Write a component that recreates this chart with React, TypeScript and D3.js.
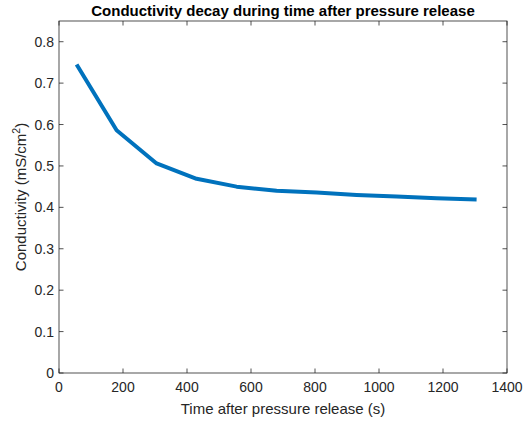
import React from "react";
import * as d3 from "d3";

const times = [55, 180, 305, 430, 555, 680, 805, 930, 1055, 1180, 1305];
const conductivity = [0.745, 0.586, 0.506, 0.469, 0.45, 0.44, 0.436, 0.43, 0.426, 0.422, 0.419];
const xTicks = [0, 200, 400, 600, 800, 1000, 1200, 1400];
const yTicks = [0, 0.1, 0.2, 0.3, 0.4, 0.5, 0.6, 0.7, 0.8];

const W = 526, H = 421;
const L = 59, R = 507, T = 21, B = 373;
const axisColor = "#262626";
const font = "'Liberation Sans', Arial, sans-serif";

export default function App() {
  const x = d3.scaleLinear().domain([0, 1400]).range([L, R]);
  const y = d3.scaleLinear().domain([0, 0.85]).range([B, T]);
  const line = d3.line<number>().x((_, i) => x(times[i])).y((d) => y(d));
  const tl = 4.5;
  return (
    <svg width={W} height={H} style={{ position: "absolute", left: 0, top: 0 }} fontFamily={font}>
      <rect x={0} y={0} width={W} height={H} fill="#fff" />
      <text x={(L + R) / 2} y={16} textAnchor="middle" fontSize={15} fontWeight="bold" fill="#000">
        Conductivity decay during time after pressure release
      </text>
      {xTicks.map((t) => (
        <g key={"x" + t}>
          <line x1={x(t)} x2={x(t)} y1={B} y2={B - tl} stroke={axisColor} strokeWidth={0.8} />
          <line x1={x(t)} x2={x(t)} y1={T} y2={T + tl} stroke={axisColor} strokeWidth={0.8} />
          <text x={x(t)} y={B + 19} textAnchor="middle" fontSize={14} fill={axisColor}>{t}</text>
        </g>
      ))}
      {yTicks.map((t) => (
        <g key={"y" + t}>
          <line x1={L} x2={L + tl} y1={y(t)} y2={y(t)} stroke={axisColor} strokeWidth={0.8} />
          <line x1={R} x2={R - tl} y1={y(t)} y2={y(t)} stroke={axisColor} strokeWidth={0.8} />
          <text x={L - 5} y={y(t) + 5} textAnchor="end" fontSize={14} fill={axisColor}>{t}</text>
        </g>
      ))}
      <rect x={L} y={T} width={R - L} height={B - T} fill="none" stroke={axisColor} strokeWidth={0.8} />
      <path d={line(conductivity) || ""} fill="none" stroke="#0072BD" strokeWidth={4} strokeLinejoin="round" />
      <text x={(L + R) / 2} y={414} textAnchor="middle" fontSize={15} fill={axisColor}>
        Time after pressure release (s)
      </text>
      <text transform={`translate(26,${(T + B) / 2}) rotate(-90)`} textAnchor="middle" fontSize={15} fill={axisColor}>
        Conductivity (mS/cm<tspan dy={-6} fontSize={10.5}>2</tspan><tspan dy={6}>)</tspan>
      </text>
    </svg>
  );
}
